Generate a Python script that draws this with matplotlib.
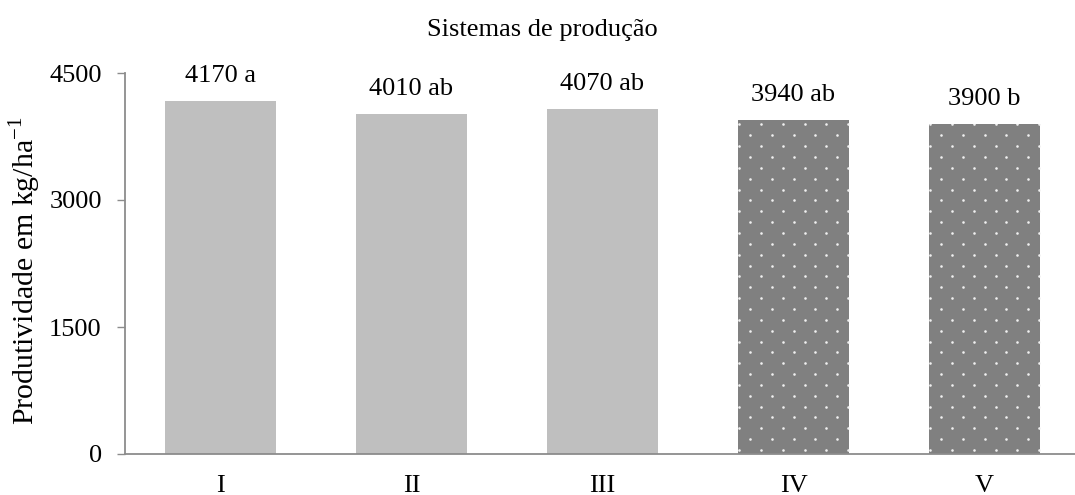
import numpy as np
import matplotlib
matplotlib.use("Agg")
import matplotlib.pyplot as plt
from matplotlib.transforms import IdentityTransform

plt.rcParams['font.family'] = ['Liberation Serif', 'DejaVu Serif']
plt.rcParams['mathtext.fontset'] = 'custom'
plt.rcParams['mathtext.rm'] = 'Liberation Serif'

# Produtividade por sistema de produção
sistemas = ['I', 'II', 'III', 'IV', 'V']
produtividade = [4170, 4010, 4070, 3940, 3900]
letras = ['a', 'ab', 'ab', 'ab', 'b']
pontilhado = [False, False, False, True, True]

W, H, DPI = 1075, 495, 100
fig = plt.figure(figsize=(W / DPI, H / DPI), dpi=DPI)
ax = fig.add_axes([125 / W, 41 / H, 955 / W, 381 / H])

cores = ['#808080' if p else '#bfbfbf' for p in pontilhado]
x = np.arange(len(sistemas))
barras = ax.bar(x, produtividade, width=0.576, color=cores, zorder=2)

ax.set_xlim(-0.5, len(sistemas) - 0.5)
ax.set_ylim(0, 4500)
ax.set_yticks([0, 1500, 3000, 4500])
ax.set_xticks(x)
ax.set_xticklabels(sistemas)

fs = 19
ax.tick_params(axis='y', length=8 / DPI * 72, width=1.0, color='#8c8c8c',
               pad=11, labelsize=fs)
ax.tick_params(axis='x', length=0, pad=15, labelsize=fs)
for lado in ['top', 'right']:
    ax.spines[lado].set_visible(False)
for lado in ['left', 'bottom']:
    ax.spines[lado].set_color('#8c8c8c')
    ax.spines[lado].set_linewidth(1.3)

# rótulos de valor com letras de significância
for xi, v, l in zip(x, produtividade, letras):
    ax.annotate(f'{v} {l}', (xi, v), xytext=(0, 14), textcoords='offset pixels',
                ha='center', va='bottom', fontsize=fs)

fig.text(542 / W, 1 - 30 / H, 'Sistemas de produção', ha='center', va='center',
         fontsize=fs)
fig.text(25 / W, 1 - 271 / H, 'Produtividade em kg/ha$^{-1}$', ha='center',
         va='center', rotation=90, fontsize=21.5)

# padrão pontilhado das barras IV e V (em pixels)
fig.canvas.draw()
dx, dy = 21.7, 10.85
for barra, p in zip(barras, pontilhado):
    if not p:
        continue
    bb = barra.get_window_extent()
    pts = []
    for i, yy in enumerate(np.arange(bb.y0 + 4, bb.y1, dy)):
        off = 1 if i % 2 == 0 else 1 + dx / 2
        for xx in np.arange(bb.x0 + off, bb.x1, dx):
            pts.append((xx, yy))
    pts = np.array(pts)
    sc = ax.scatter(pts[:, 0], pts[:, 1], s=3.5, color='#f0f0f0', linewidths=0,
                    transform=IdentityTransform(), zorder=3)
    sc.set_clip_path(barra)

fig.savefig('out.png', dpi=DPI)
